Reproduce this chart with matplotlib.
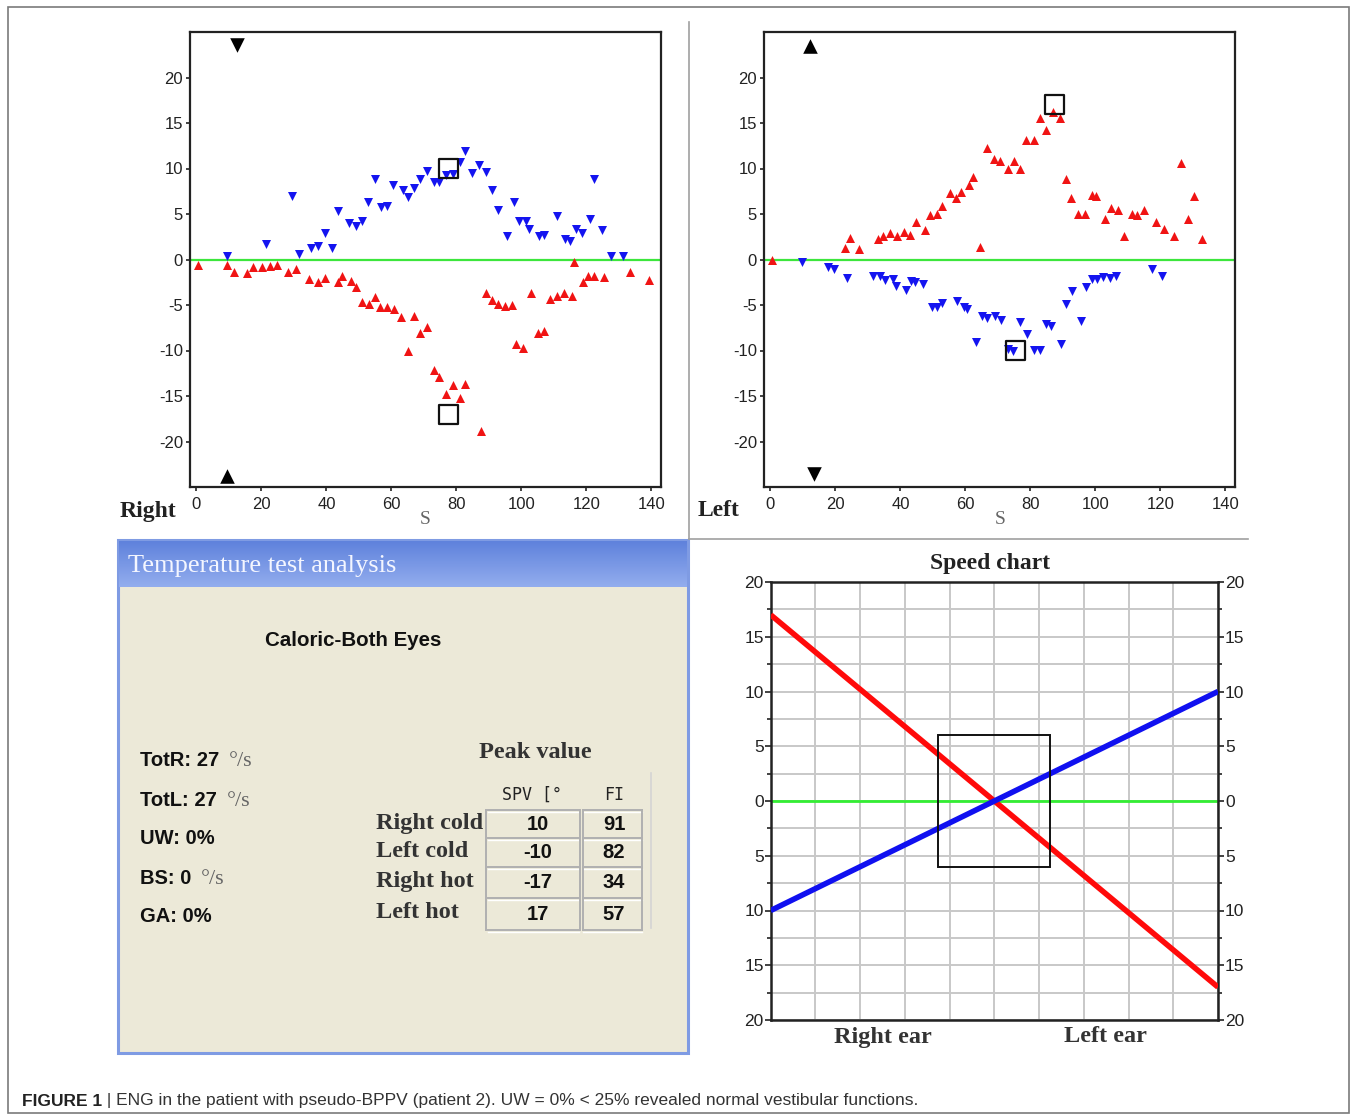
import numpy as np
import matplotlib.pyplot as plt
from matplotlib.patches import Rectangle
from matplotlib.colors import LinearSegmentedColormap
from matplotlib.ticker import MultipleLocator

plt.rcParams['axes.unicode_minus'] = False
plt.rcParams['font.family'] = ['Liberation Sans', 'DejaVu Sans']

W, H = 1357, 1120

# ---- top left: right ear ENG (x = time in s, y = SPV) ----
tl_blue_x = [9.4, 21.3, 29.4, 31.5, 35.4, 37.3, 39.5, 41.6, 43.5, 47.0, 49.1, 50.8, 52.8,
             55.0, 56.9, 58.8, 60.4, 63.5, 65.0, 66.9, 68.8, 71.0, 73.0, 74.8, 76.8, 79.1,
             81.2, 82.8, 84.8, 86.9, 89.1, 91.0, 92.9, 95.5, 97.6, 99.2, 101.4, 102.5,
             105.5, 106.9, 111.0, 113.5, 115.0, 116.8, 118.6, 121.1, 122.5, 124.8, 127.6, 131.3]
tl_blue_y = [0.4, 1.7, 7.0, 0.6, 1.3, 1.5, 2.9, 1.3, 5.3, 4.0, 3.7, 4.2, 6.3,
             8.9, 5.8, 5.9, 8.2, 7.6, 6.9, 7.9, 8.8, 9.7, 8.5, 8.5, 9.3, 9.4,
             10.7, 11.9, 9.5, 10.4, 9.6, 7.6, 5.4, 2.6, 6.3, 4.2, 4.2, 3.4,
             2.6, 2.7, 4.8, 2.3, 2.0, 3.3, 2.9, 4.4, 8.9, 3.2, 0.4, 0.4]
tl_red_x = [0.6, 9.4, 11.4, 15.6, 17.5, 20.2, 22.5, 24.7, 28.3, 30.7, 34.6, 37.3, 39.6,
            43.5, 44.9, 47.5, 49.1, 50.9, 53.0, 55.0, 56.5, 58.8, 60.9, 63.0, 65.1, 67.0,
            68.8, 71.0, 73.0, 74.8, 76.8, 79.0, 81.1, 82.8, 87.5, 89.0, 91.0, 92.9, 95.0,
            97.1, 98.5, 100.4, 103.0, 105.0, 107.1, 108.8, 111.0, 113.2, 115.5, 116.3,
            118.9, 120.4, 122.5, 125.3, 133.4, 139.4]
tl_red_y = [-0.6, -0.6, -1.4, -1.5, -0.8, -0.8, -0.7, -0.6, -1.4, -1.0, -2.1, -2.5, -2.0,
            -2.5, -1.8, -2.4, -3.0, -4.7, -4.9, -4.1, -5.2, -5.2, -5.4, -6.3, -10.0, -6.2,
            -8.1, -7.4, -12.1, -12.9, -14.8, -13.8, -15.2, -13.7, -18.9, -3.7, -4.5, -4.9, -5.1,
            -5.0, -9.3, -9.7, -3.7, -8.1, -7.9, -4.3, -4.0, -3.7, -4.0, -0.3,
            -2.5, -1.8, -1.8, -1.9, -1.4, -2.3]
tl_mark_x = [12.4, 9.4]
tl_mark_y = [23.6, -23.8]
tl_mark_kind = ['v', '^']
tl_peak_x = [77.6, 77.6]
tl_peak_y = [10.0, -17.0]

# ---- top right: left ear ENG ----
tr_red_x = [0.6, 23.0, 24.6, 27.2, 33.1, 34.6, 36.8, 39.0, 41.0, 42.8, 44.8, 47.5, 49.1,
            51.4, 52.9, 55.3, 57.1, 58.7, 61.2, 62.4, 64.5, 66.8, 68.8, 70.8, 73.0, 74.9,
            76.8, 78.8, 81.1, 82.9, 84.7, 87.0, 89.0, 90.9, 92.6, 94.7, 96.7, 99.0, 100.3,
            102.9, 104.9, 106.9, 108.7, 111.3, 112.9, 114.9, 118.7, 121.1, 124.1, 126.4,
            128.4, 130.5, 132.7]
tr_red_y = [-0.1, 1.3, 2.4, 1.2, 2.2, 2.6, 2.9, 2.6, 3.0, 2.7, 4.1, 3.2, 4.9,
            5.0, 5.9, 7.3, 6.8, 7.4, 8.2, 9.1, 1.4, 12.3, 11.0, 10.8, 10.0, 10.8,
            10.0, 13.1, 13.1, 15.5, 14.2, 16.2, 15.6, 8.9, 6.8, 5.0, 5.0, 7.1, 7.0,
            4.5, 5.7, 5.4, 2.6, 5.0, 4.9, 5.4, 4.1, 3.3, 2.6, 10.6,
            4.5, 7.0, 2.2]
tr_blue_x = [9.7, 17.6, 19.4, 23.7, 31.7, 33.8, 35.1, 37.7, 38.7, 41.7, 43.2, 44.5, 47.1,
             49.6, 51.2, 52.9, 57.3, 59.7, 60.4, 63.2, 65.2, 66.8, 69.1, 71.1, 73.2, 74.7,
             76.8, 79.0, 81.1, 82.9, 84.7, 86.5, 89.3, 91.1, 92.8, 95.5, 97.0, 99.0, 100.6,
             102.3, 104.4, 106.4, 117.4, 120.6]
tr_blue_y = [-0.3, -0.8, -1.0, -2.0, -1.8, -1.8, -2.2, -2.1, -2.9, -3.4, -2.4, -2.5, -2.7,
             -5.2, -5.2, -4.8, -4.6, -5.2, -5.4, -9.1, -6.2, -6.4, -6.2, -6.7, -9.8, -10.1,
             -6.9, -8.2, -9.9, -9.9, -7.1, -7.3, -9.3, -4.9, -3.5, -6.8, -3.0, -2.1, -2.1,
             -1.9, -2.0, -1.8, -1.0, -1.8]
tr_mark_x = [12.3, 13.5]
tr_mark_y = [23.5, -23.6]
tr_mark_kind = ['^', 'v']
tr_peak_x = [87.5, 75.5]
tr_peak_y = [17.0, -10.0]

# ---- temperature test analysis ----
summary_labels = ['TotR: 27', 'TotL: 27', 'UW: 0%', 'BS: 0', 'GA: 0%']
summary_units = ['°/s', '°/s', '', '°/s', '']
peak_rows = ['Right cold', 'Left cold', 'Right hot', 'Left hot']
peak_spv = [10, -10, -17, 17]
peak_fi = [91, 82, 34, 57]

# ---- speed chart ----
speed_pos = [0, 10]
speed_red = [17, -17]
speed_blue = [-10, 10]
speed_box_x = [3.75, 6.25]
speed_box_y = [-6, 6]
speed_ticks = [-20, -15, -10, -5, 0, 5, 10, 15, 20]
speed_tick_labels = ['20', '15', '10', '5', '0', '5', '10', '15', '20']

fig = plt.figure(figsize=(W / 100, H / 100), dpi=100)
fig.patch.set_facecolor('white')


def box(x0, y0, x1, y1):
    return [x0 / W, 1 - y1 / H, (x1 - x0) / W, (y1 - y0) / H]


# overlay in pixel coords for frame, panel and text
ov = fig.add_axes([0, 0, 1, 1])
ov.axis('off')
ov.add_patch(Rectangle((8, 7), 1341, 1106, fill=False, ec='#7a7a7a', lw=1.2))
ov.plot([689, 689], [22, 539], color='#a0a0a0', lw=1.2)
ov.plot([689, 1248], [539, 539], color='#a0a0a0', lw=1.2)

serif = ['Liberation Serif', 'DejaVu Serif']

ov.text(148, 512, 'Right', family=serif, fontweight='bold', fontsize=17,
        ha='center', va='center', color='#222222')
ov.text(719, 511, 'Left', family=serif, fontweight='bold', fontsize=17,
        ha='center', va='center', color='#222222')
ov.text(425, 520, 'S', family=serif, fontsize=14, ha='center', va='center', color='#666666')
ov.text(1000, 520, 'S', family=serif, fontsize=14, ha='center', va='center', color='#666666')

# temperature panel
ov.add_patch(Rectangle((118, 540), 570, 513, fc='#ECE9D8', ec='#7F9BE3', lw=2.2, zorder=0))
bar_cmap = LinearSegmentedColormap.from_list('bar', ['#5F82DC', '#93ADEE'])
ov.imshow(np.linspace(0, 1, 60).reshape(-1, 1), cmap=bar_cmap,
          extent=(119, 687, 587, 541), aspect='auto', zorder=1)
ov.text(128, 566, 'Temperature test analysis', family=serif, fontsize=19,
        color='#F4F6FF', va='center', zorder=2)
ov.text(353, 640, 'Caloric-Both Eyes', fontsize=14.8, fontweight='bold',
        ha='center', va='center', color='#111111')

for i, (lab, unit) in enumerate(zip(summary_labels, summary_units)):
    y = [761, 801, 839, 879, 916][i]
    t = ov.text(140, y, lab, fontsize=14.5, fontweight='bold', va='center', color='#111111')
    if unit:
        ov.annotate(unit, xy=(1, 0.5), xycoords=t, xytext=(7, 0), textcoords='offset points',
                    family=serif, fontsize=16, va='center', color='#666666')

ov.text(535, 752, 'Peak value', family=serif, fontweight='bold', fontsize=17.5,
        ha='center', va='center', color='#333333')
ov.text(532, 795, 'SPV [°', family=['DejaVu Sans Mono'], fontsize=12,
        ha='center', va='center', color='#222222')
ov.text(614, 795, 'FI', family=['DejaVu Sans Mono'], fontsize=12,
        ha='center', va='center', color='#222222')

row_edges = [810, 838, 867, 898, 930]
for y in row_edges:
    for x0, x1 in [(488, 579), (583, 642)]:
        ov.plot([x0, x1], [y, y], color='#b0b0b0', lw=1.4)
        ov.plot([x0, x1], [y + 1.5, y + 1.5], color='white', lw=1.0)
for x in [486, 580, 583, 642]:
    ov.plot([x, x], [810, 930], color='#b0b0b0', lw=1.4)
ov.plot([651, 651], [773, 928], color='#d4d4d4', lw=1.2)

for i, (name, spv, fi) in enumerate(zip(peak_rows, peak_spv, peak_fi)):
    y = (row_edges[i] + row_edges[i + 1]) / 2
    ov.text(376, y - 1, name, family=serif, fontweight='bold', fontsize=17.5,
            va='center', color='#333333')
    ov.text(538, y, str(spv), fontsize=14.5, fontweight='bold', ha='center', va='center',
            color='#111111')
    ov.text(614, y, str(fi), fontsize=14.5, fontweight='bold', ha='center', va='center',
            color='#111111')

# speed chart labels
ov.text(990, 563, 'Speed chart', family=serif, fontweight='bold', fontsize=17,
        ha='center', va='center', color='#222222')
ov.text(883, 1038, 'Right ear', family=serif, fontweight='bold', fontsize=17.5,
        ha='center', va='center', color='#333333')
ov.text(1105, 1036, 'Left ear', family=serif, fontweight='bold', fontsize=17.5,
        ha='center', va='center', color='#333333')

# caption
cap = ov.text(22, 1101, 'FIGURE 1', fontsize=12.5, fontweight='bold', va='center',
              color='#222222')
ov.annotate(' | ENG in the patient with pseudo-BPPV (patient 2). UW = 0% < 25% revealed '
            'normal vestibular functions.', xy=(1, 0.5), xycoords=cap, va='center',
            fontsize=12.5, color='#333333')

ov.set_xlim(0, W)
ov.set_ylim(H, 0)


def eng_panel(rect, bx, by, rx, ry, mx, my, mk, px, py):
    ax = fig.add_axes(box(*rect))
    ax.axhline(0, color='#3CE63C', lw=1.6, zorder=1)
    ax.scatter(bx, by, marker='v', s=42, color='#1414F0', lw=0, zorder=3)
    ax.scatter(rx, ry, marker='^', s=42, color='#F01414', lw=0, zorder=3)
    for x, y, m in zip(mx, my, mk):
        ax.scatter(x, y, marker=m, s=110, color='black', lw=0, zorder=4)
    ax.scatter(px, py, marker='s', s=190, facecolor='none', edgecolor='#111111',
               lw=1.6, zorder=5)
    ax.set_xlim(-2, 143)
    ax.set_ylim(-25, 25)
    ax.set_xticks(np.arange(0, 141, 20))
    ax.set_yticks(np.arange(-20, 21, 5))
    ax.tick_params(labelsize=12, colors='#222222', length=3, width=1.2)
    ax.tick_params(axis='x', pad=4)
    ax.tick_params(axis='y', pad=2)
    for s in ax.spines.values():
        s.set_linewidth(1.6)
        s.set_color('#222222')
    return ax


eng_panel((190, 32, 661, 487), tl_blue_x, tl_blue_y, tl_red_x, tl_red_y,
          tl_mark_x, tl_mark_y, tl_mark_kind, tl_peak_x, tl_peak_y)
eng_panel((764, 32, 1235, 487), tr_blue_x, tr_blue_y, tr_red_x, tr_red_y,
          tr_mark_x, tr_mark_y, tr_mark_kind, tr_peak_x, tr_peak_y)

# speed chart
sp = fig.add_axes(box(770.7, 582, 1218, 1020))
sp.set_xlim(0, 10)
sp.set_ylim(-20, 20)
sp.set_xticks(np.arange(0, 11, 1))
sp.tick_params(axis='x', length=0, labelbottom=False)
sp.set_yticks(speed_ticks, labels=speed_tick_labels)
sp.yaxis.set_minor_locator(MultipleLocator(2.5))
sp.grid(True, which='both', color='#c8c8c8', lw=1.4)
sp.set_axisbelow(True)
sp.tick_params(axis='y', which='both', left=True, right=True, labelleft=True,
               labelright=True, direction='out', labelsize=12.5, colors='#222222', pad=1)
sp.tick_params(axis='y', which='major', length=4, width=1.2)
sp.tick_params(axis='y', which='minor', length=3, width=1.2)
sp.axhline(0, color='#33EE33', lw=2, zorder=2)
sp.plot(speed_pos, speed_red, color='#FF0A0A', lw=4, solid_capstyle='butt', zorder=3)
sp.plot(speed_pos, speed_blue, color='#1010F0', lw=4, solid_capstyle='butt', zorder=3)
sp.add_patch(Rectangle((speed_box_x[0], speed_box_y[0]), speed_box_x[1] - speed_box_x[0],
                       speed_box_y[1] - speed_box_y[0], fill=False, ec='#111111',
                       lw=1.4, zorder=4))
for s in sp.spines.values():
    s.set_linewidth(1.8)
    s.set_color('#222222')

fig.savefig('out.png', dpi=100)
